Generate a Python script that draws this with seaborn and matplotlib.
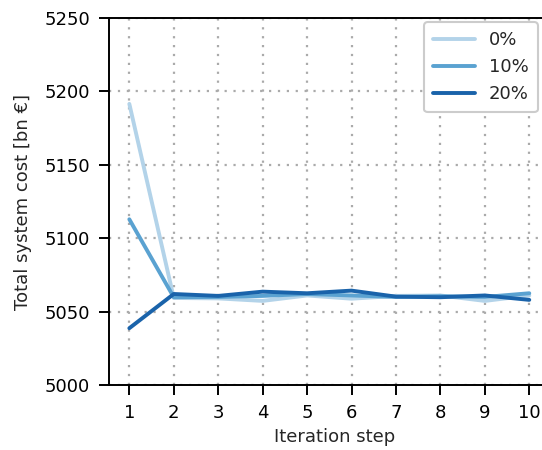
import pandas as pd
import seaborn as sns
import matplotlib.pyplot as plt

steps = list(range(1, 11))
cost_0 = [5191.5, 5059.3, 5059.0, 5057.3, 5061.0, 5058.8, 5060.7, 5061.0, 5057.3, 5061.0]
cost_10 = [5112.9, 5059.8, 5060.0, 5060.7, 5062.0, 5061.0, 5060.0, 5060.5, 5060.0, 5062.5]
cost_20 = [5038.7, 5062.0, 5060.7, 5063.6, 5062.5, 5064.3, 5060.2, 5059.8, 5061.0, 5058.0]
labels = ['0%', '10%', '20%']
colors = ['#b3d3e9', '#5aa2d1', '#1a63aa']

df = pd.DataFrame({
    'step': steps * 3,
    'cost': cost_0 + cost_10 + cost_20,
    'share': [labels[0]] * 10 + [labels[1]] * 10 + [labels[2]] * 10,
})

sns.set_style('ticks')
plt.rcParams['font.family'] = ['DejaVu Sans']

fig = plt.figure(figsize=(5.42, 4.5), dpi=100)
ax = fig.add_axes([0.2017, 0.1444, 0.83, 0.8156])
sns.lineplot(data=df, x='step', y='cost', hue='share', palette=colors,
             linewidth=2.8, ax=ax)

# keep x=1 at 129 px and x=10 at 529 px
ax.set_xlim(0.55, 1 + (0.83 * 542) / 44.44 - 0.45)
ax.set_ylim(5000, 5250)
ax.set_xticks(steps)
ax.set_yticks(range(5000, 5251, 50))
ax.grid(True, linestyle=(0, (1, 3)), color='#aaaaaa', linewidth=1.6)
ax.tick_params(direction='out', length=7, width=1.4, pad=7, labelsize=13, colors='black')
for s in ax.spines.values():
    s.set_linewidth(1.4)
    s.set_color('black')
ax.spines['right'].set_visible(False)
ax.set_xlabel('Iteration step', fontsize=13)
ax.set_ylabel('Total system cost [bn €]', fontsize=13, labelpad=9)

leg = ax.legend(title=None, loc='upper right', bbox_to_anchor=(538 / 542, 428 / 450),
                bbox_transform=fig.transFigure,
                fontsize=13, frameon=True, fancybox=True, handlelength=2.3,
                labelspacing=0.5, borderpad=0.5, borderaxespad=0)
leg.get_frame().set_edgecolor('#cccccc')
leg.get_frame().set_linewidth(1.5)
leg.get_frame().set_alpha(1)

fig.savefig('out.png', dpi=100)
plt.close(fig)
